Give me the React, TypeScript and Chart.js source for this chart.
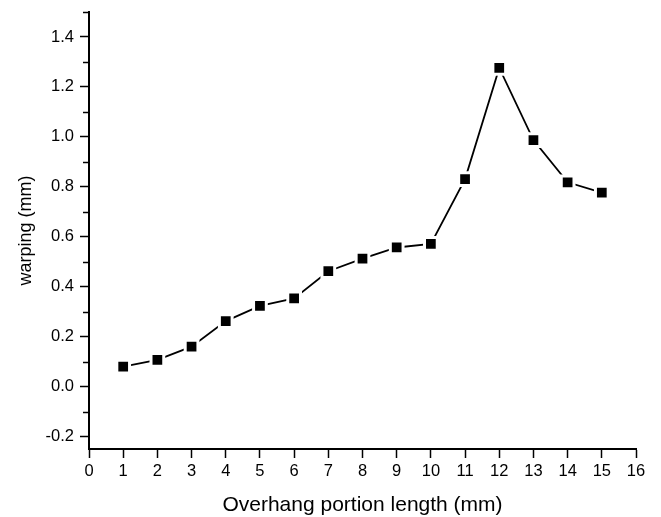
import React, { useEffect, useRef } from "react";
import { Chart, registerables } from "chart.js";

Chart.register(...registerables);

const lengths: number[] = [1, 2, 3, 4, 5, 6, 7, 8, 9, 10, 11, 12, 13, 14, 15];
const warping: number[] = [0.08, 0.107, 0.16, 0.262, 0.323, 0.353, 0.462, 0.512, 0.557, 0.571, 0.831, 1.276, 0.987, 0.818, 0.777];
const xTitle = "Overhang portion length (mm)";
const yTitle = "warping (mm)";

const FONT = "'Liberation Sans', Arial, sans-serif";

const minorTicks = {
  id: "minorTicks",
  afterDraw(chart: any) {
    const y = chart.scales.y;
    const ctx = chart.ctx;
    const left = chart.chartArea.left;
    ctx.save();
    ctx.strokeStyle = "#000";
    ctx.lineWidth = 1.5;
    y.ticks.forEach((t: any) => {
      const k = Math.round(t.value * 10);
      if (Math.abs(k) % 2 === 1) {
        const py = Math.round(y.getPixelForValue(t.value)) + 0.5;
        ctx.beginPath();
        ctx.moveTo(left - 6, py);
        ctx.lineTo(left, py);
        ctx.stroke();
      }
    });
    ctx.restore();
  },
};

export default function App() {
  const ref = useRef<HTMLCanvasElement>(null);
  useEffect(() => {
    const chart = new Chart(ref.current!, {
      type: "line",
      data: {
        datasets: [
          {
            data: lengths.map((x, i) => ({ x, y: warping[i] })),
            borderColor: "#000",
            borderWidth: 1.8,
            pointStyle: "rect",
            pointRadius: 9,
            pointBackgroundColor: "#000",
            pointBorderColor: "#fff",
            pointBorderWidth: 3,
            tension: 0,
          },
        ],
      },
      plugins: [minorTicks],
      options: {
        animation: false,
        responsive: false,
        maintainAspectRatio: false,
        events: [],
        layout: { padding: { top: 10, right: 25, left: 0, bottom: 0 } },
        plugins: { legend: { display: false }, tooltip: { enabled: false } },
        scales: {
          x: {
            type: "linear",
            min: 0,
            max: 16,
            afterFit: (s: any) => {
              s.height = 68;
              s.paddingLeft = 0;
              s.paddingRight = 0;
            },
            border: { display: true, color: "#000", width: 2 },
            grid: {
              display: true,
              drawOnChartArea: false,
              drawTicks: true,
              tickLength: 9,
              tickWidth: 1.5,
              tickColor: "#000",
            },
            ticks: {
              stepSize: 1,
              autoSkip: false,
              maxRotation: 0,
              padding: 4,
              color: "#000",
              font: { family: FONT, size: 16.5 },
            },
            title: {
              display: true,
              text: xTitle,
              color: "#000",
              font: { family: FONT, size: 21, lineHeight: 1 },
              padding: { top: 0, bottom: 1.5 },
            },
          },
          y: {
            type: "linear",
            min: -0.25,
            max: 1.5,
            afterFit: (s: any) => {
              s.width = 89;
              s.paddingTop = 0;
              s.paddingBottom = 0;
            },
            border: { display: true, color: "#000", width: 2 },
            grid: {
              display: true,
              drawOnChartArea: false,
              drawTicks: true,
              tickLength: 9,
              tickWidth: 1.5,
              tickColor: (c: any) =>
                Math.abs(Math.round((c.tick?.value ?? 0) * 10)) % 2 === 0 ? "#000" : "rgba(0,0,0,0)",
            },
            ticks: {
              stepSize: 0.1,
              includeBounds: false,
              autoSkip: false,
              padding: 6,
              color: "#000",
              font: { family: FONT, size: 16.5 },
              callback: (v: any) => {
                const k = Math.round(Number(v) * 10);
                return Math.abs(k) % 2 === 0 ? (k / 10).toFixed(1) : "";
              },
            },
            title: {
              display: true,
              text: yTitle,
              color: "#000",
              font: { family: FONT, size: 18, lineHeight: 1 },
              padding: { top: 17, bottom: 0 },
            },
          },
        },
      },
    } as any);
    return () => chart.destroy();
  }, []);
  return (
    <div style={{ position: "absolute", left: 0, top: 0, width: 661, height: 517, background: "#fff" }}>
      <canvas ref={ref} width={661} height={517} style={{ width: 661, height: 517, display: "block" }} />
    </div>
  );
}
